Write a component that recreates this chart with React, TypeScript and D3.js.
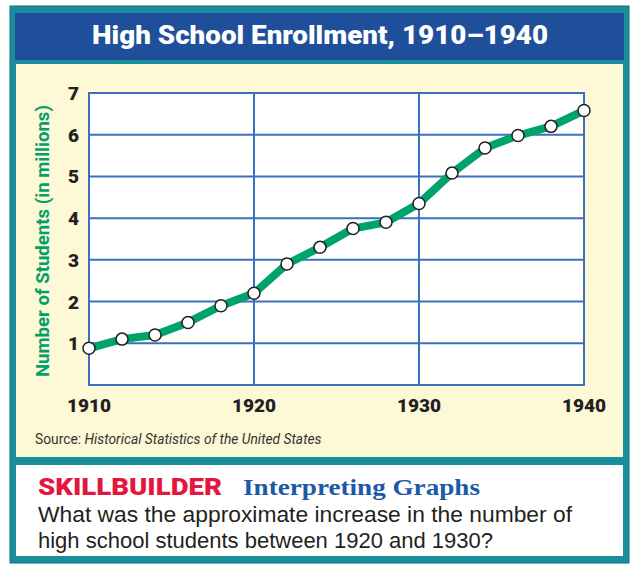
import React, { useEffect, useRef } from "react";
import * as d3 from "d3";

// enrollment, every two years
const years = [1910, 1912, 1914, 1916, 1918, 1920, 1922, 1924, 1926, 1928, 1930, 1932, 1934, 1936, 1938, 1940];
const students = [0.88, 1.1, 1.2, 1.5, 1.9, 2.2, 2.9, 3.3, 3.75, 3.9, 4.35, 5.08, 5.68, 5.98, 6.2, 6.58];
const xTicks = [1910, 1920, 1930, 1940];
const yTicks = [1, 2, 3, 4, 5, 6, 7];

const W = 632;
const H = 571;

const App = () => {
  const ref = useRef<SVGSVGElement>(null);

  useEffect(() => {
    const svg = d3.select(ref.current);
    svg.selectAll("*").remove();

    // frame
    svg.append("rect").attr("x", 10).attr("y", 6).attr("width", 619).attr("height", 557)
      .attr("fill", "#1b8e9c").attr("stroke", "#0f6f7c").attr("stroke-width", 1);
    svg.append("rect").attr("x", 15).attr("y", 13).attr("width", 609).attr("height", 47).attr("fill", "#1f4f9a");
    svg.append("rect").attr("x", 16).attr("y", 64).attr("width", 607).attr("height", 393).attr("fill", "#fdf8d6");
    svg.append("rect").attr("x", 16).attr("y", 465).attr("width", 607).attr("height", 91).attr("fill", "#ffffff");

    svg.append("text")
      .attr("x", 92).attr("y", 44)
      .attr("textLength", 456).attr("lengthAdjust", "spacingAndGlyphs")
      .attr("font-family", "Roboto, sans-serif")
      .attr("font-weight", 900)
      .attr("font-size", 25)
      .attr("fill", "#ffffff")
      .text("High School Enrollment, 1910\u20131940");

    const x = d3.scaleLinear().domain([1910, 1940]).range([89, 584]);
    const y = d3.scaleLinear().domain([0, 7]).range([385, 93]);

    // plot background + grid
    svg.append("rect").attr("x", x(1910)).attr("y", y(7))
      .attr("width", x(1940) - x(1910)).attr("height", y(0) - y(7)).attr("fill", "#ffffff");

    const grid = svg.append("g").attr("stroke", "#3a6fbf").attr("stroke-width", 2);
    yTicks.forEach((t) => {
      grid.append("line").attr("x1", x(1910)).attr("x2", x(1940)).attr("y1", y(t)).attr("y2", y(t));
    });
    xTicks.forEach((t) => {
      grid.append("line").attr("x1", x(t)).attr("x2", x(t)).attr("y1", y(0)).attr("y2", y(7));
    });
    grid.append("rect").attr("x", x(1910)).attr("y", y(7))
      .attr("width", x(1940) - x(1910)).attr("height", y(0) - y(7)).attr("fill", "none");

    // tick labels
    svg.append("g").selectAll("text").data(xTicks).enter().append("text")
      .attr("x", (d) => x(d)).attr("y", 412)
      .attr("text-anchor", "middle")
      .attr("font-family", "Roboto, sans-serif").attr("font-weight", 900).attr("font-size", 19)
      .attr("fill", "#231f20")
      .text((d) => d);
    svg.append("g").selectAll("text").data(yTicks).enter().append("text")
      .attr("x", 79).attr("y", (d) => y(d) + 7)
      .attr("text-anchor", "end")
      .attr("font-family", "Roboto, sans-serif").attr("font-weight", 900).attr("font-size", 19)
      .attr("fill", "#231f20")
      .text((d) => d);

    svg.append("text")
      .attr("transform", `translate(49, ${y(3.45)}) rotate(-90)`)
      .attr("text-anchor", "middle")
      .attr("textLength", 272).attr("lengthAdjust", "spacingAndGlyphs")
      .attr("font-family", "Roboto, sans-serif").attr("font-weight", 700).attr("font-size", 18)
      .attr("fill", "#00a06b")
      .text("Number of Students (in millions)");

    // line + markers
    const pts = years.map((yr, i) => [yr, students[i]] as [number, number]);
    const line = d3.line<[number, number]>().x((d) => x(d[0])).y((d) => y(d[1]));
    svg.append("path").attr("d", line(pts) || "")
      .attr("fill", "none").attr("stroke", "#00a36c").attr("stroke-width", 8)
      .attr("stroke-linejoin", "round");
    svg.append("g").selectAll("circle").data(pts).enter().append("circle")
      .attr("cx", (d) => x(d[0])).attr("cy", (d) => y(d[1])).attr("r", 6)
      .attr("fill", "#ffffff").attr("stroke", "#231f20").attr("stroke-width", 1.5);

    // source
    const src = svg.append("text").attr("x", 35).attr("y", 444)
      .attr("font-family", "Roboto, sans-serif").attr("font-size", 13.8).attr("fill", "#333333");
    src.append("tspan").text("Source: ");
    src.append("tspan").attr("font-style", "italic").text("Historical Statistics of the United States");

    // skillbuilder
    svg.append("text").attr("x", 38).attr("y", 495)
      .attr("textLength", 184).attr("lengthAdjust", "spacingAndGlyphs")
      .attr("font-family", "Roboto, sans-serif").attr("font-weight", 900).attr("font-size", 24)
      .attr("fill", "#e3173e").text("SKILLBUILDER");
    svg.append("text").attr("x", 243).attr("y", 495)
      .attr("textLength", 237).attr("lengthAdjust", "spacingAndGlyphs")
      .attr("font-family", "'Liberation Serif', serif").attr("font-weight", 700).attr("font-size", 23)
      .attr("fill", "#1a5aa8").text("Interpreting Graphs");
    const q = svg.append("text").attr("font-family", "'Liberation Sans', Arial, sans-serif")
      .attr("font-size", 22).attr("fill", "#231f20");
    q.append("tspan").attr("x", 38).attr("y", 522).attr("textLength", 534).attr("lengthAdjust", "spacingAndGlyphs")
      .text("What was the approximate increase in the number of");
    q.append("tspan").attr("x", 38).attr("y", 548).attr("textLength", 455).attr("lengthAdjust", "spacingAndGlyphs")
      .text("high school students between 1920 and 1930?");
  }, []);

  return (
    <div style={{ position: "absolute", left: 0, top: 0 }}>
      <svg ref={ref} width={W} height={H} style={{ display: "block", background: "#ffffff" }} />
    </div>
  );
};

export default App;
